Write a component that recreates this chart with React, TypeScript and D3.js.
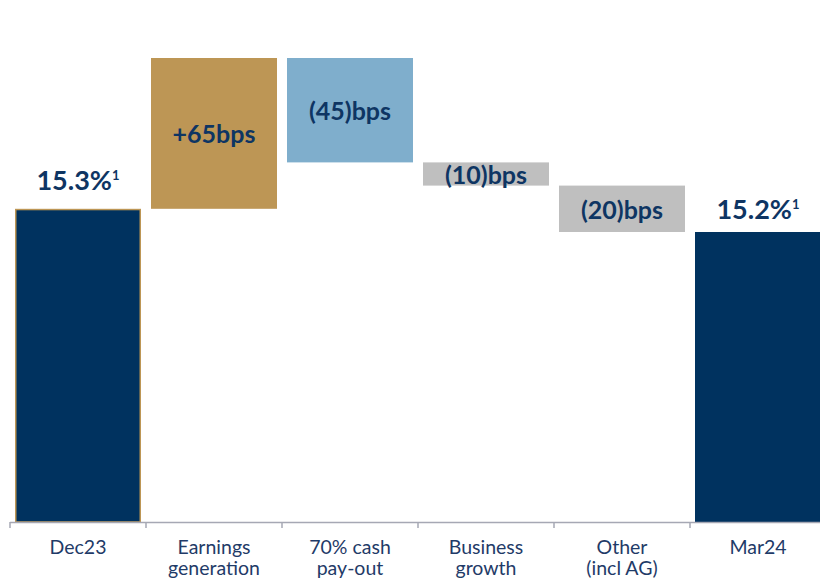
import React from "react";
import * as d3 from "d3";

const categories = ["Dec23", "Earnings\ngeneration", "70% cash\npay-out", "Business\ngrowth", "Other\n(incl AG)", "Mar24"];
const startValue = 15.3;
const deltas = [0.65, -0.45, -0.10, -0.20];
const endValue = 15.2;
const valueLabels = ["15.3%", "+65bps", "(45)bps", "(10)bps", "(20)bps", "15.2%"];
const footnote = "1";

const W = 820;
const H = 580;
const NAVY = "#00325F";
const GOLD = "#BD9655";
const BLUE = "#7FAECC";
const GREY = "#BFBFBF";
const TEXT = "#0E3563";
const AXISTEXT = "#1F3B68";
const AXIS = "#A6A8B4";

export default function App() {
  const x = d3.scaleBand<string>().domain(categories).range([10, 826]).paddingInner(10 / 136).paddingOuter(5 / 136);
  const y = d3.scaleLinear().domain([13.95, 15.95]).range([522, 58]);
  const step = x.step();

  type Bar = { cat: string; y0: number; y1: number; fill: string; total: boolean; label: string };
  const bars: Bar[] = [];
  bars.push({ cat: categories[0], y0: y.domain()[0], y1: startValue, fill: NAVY, total: true, label: valueLabels[0] });
  let run = startValue;
  deltas.forEach((d, i) => {
    const next = run + d;
    const fill = i === 0 ? GOLD : i === 1 ? BLUE : GREY;
    bars.push({ cat: categories[i + 1], y0: run, y1: next, fill, total: false, label: valueLabels[i + 1] });
    run = next;
  });
  bars.push({ cat: categories[5], y0: y.domain()[0], y1: endValue, fill: NAVY, total: true, label: valueLabels[5] });

  const ticks = d3.range(categories.length + 1).map((i) => 10 + i * step);

  return (
    <svg width={W} height={H} style={{ position: "absolute", left: 0, top: 0, background: "#fff" }}>
      {bars.map((b, i) => {
        const bx = x(b.cat)!;
        const top = y(Math.max(b.y0, b.y1));
        const bottom = y(Math.min(b.y0, b.y1));
        const cx = bx + x.bandwidth() / 2;
        return (
          <g key={i}>
            {i === 0 ? (
              <rect x={bx + 0.75} y={top + 0.75} width={x.bandwidth() - 1.5} height={bottom - top - 0.75} fill={b.fill} stroke={GOLD} strokeWidth={1.5} />
            ) : (
              <rect x={bx} y={top} width={x.bandwidth()} height={bottom - top} fill={b.fill} />
            )}
            {b.total ? (
              <text x={cx} y={top - (i === 0 ? 19 : 13)} textAnchor="middle" fontFamily="Lato" fontWeight={700} fontSize={27} fill={TEXT}>
                {b.label}
                <tspan fontSize={13} dy={-10}>{footnote}</tspan>
              </text>
            ) : (
              <text x={cx} y={(top + bottom) / 2 + 10} textAnchor="middle" fontFamily="Lato" fontWeight={700} fontSize={25} fill={TEXT}>
                {b.label}
              </text>
            )}
          </g>
        );
      })}
      <line x1={10} x2={826} y1={522.5} y2={522.5} stroke={AXIS} strokeWidth={1.5} />
      {ticks.map((t, i) => (
        <line key={i} x1={t} x2={t} y1={522} y2={528} stroke={AXIS} strokeWidth={1.5} />
      ))}
      {categories.map((c, i) => (
        <text key={c} x={x(c)! + x.bandwidth() / 2} y={554} textAnchor="middle" fontFamily="Lato" fontSize={19.5} fill={AXISTEXT}>
          {c.split("\n").map((line, j) => (
            <tspan key={j} x={x(c)! + x.bandwidth() / 2} dy={j === 0 ? 0 : 21}>{line}</tspan>
          ))}
        </text>
      ))}
    </svg>
  );
}
